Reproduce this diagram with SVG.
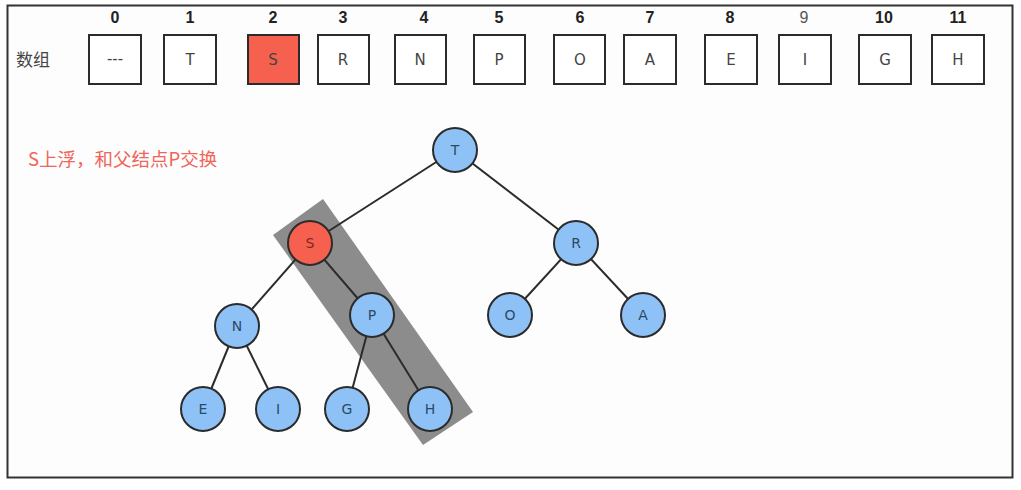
<svg xmlns="http://www.w3.org/2000/svg" width="1021" height="490" viewBox="0 0 1021 490">
<style>
.box{fill:#fff;stroke:#2b2b2b;stroke-width:2}
.idx{font-family:"Liberation Sans",Arial,sans-serif;font-size:16px;font-weight:bold;fill:#222;text-anchor:middle}
.lt{font-family:"DejaVu Sans","Liberation Sans",sans-serif;font-size:15px;fill:#444;text-anchor:middle}
.node{fill:#8ec2f6;stroke:#2b2b2b;stroke-width:2}
.red{fill:#f5614e}
.nt{font-family:"DejaVu Sans","Liberation Sans",sans-serif;font-size:14px;fill:#2a4a66;text-anchor:middle}
.edge{stroke:#2b2b2b;stroke-width:2;fill:none}
</style>
<rect x="0" y="0" width="1021" height="490" fill="#ffffff"/>
<rect x="7.5" y="5.5" width="1005" height="472" fill="#fdfdfd" stroke="#333" stroke-width="2"/>
<g id="array">
<text x="33" y="66" font-family="'Noto Sans CJK SC',sans-serif" font-size="17" fill="#444" text-anchor="middle">数组</text>
<g id="a0"><text class="idx" x="115" y="23">0</text><rect class="box" x="89" y="35" width="52" height="49"/><text class="lt" x="115" y="64">---</text></g>
<g id="a1"><text class="idx" x="190" y="23">1</text><rect class="box" x="164" y="35" width="52" height="49"/><text class="lt" x="190" y="65">T</text></g>
<g id="a2"><text class="idx" x="273" y="23">2</text><rect class="box red" x="248" y="35" width="51" height="49"/><text class="lt" x="273" y="65">S</text></g>
<g id="a3"><text class="idx" x="343" y="23">3</text><rect class="box" x="318" y="35" width="51" height="49"/><text class="lt" x="343" y="65">R</text></g>
<g id="a4"><text class="idx" x="424" y="23">4</text><rect class="box" x="395" y="35" width="51" height="49"/><text class="lt" x="420" y="65">N</text></g>
<g id="a5"><text class="idx" x="499" y="23">5</text><rect class="box" x="474" y="35" width="51" height="49"/><text class="lt" x="499" y="65">P</text></g>
<g id="a6"><text class="idx" x="580" y="23">6</text><rect class="box" x="554" y="35" width="51" height="49"/><text class="lt" x="580" y="65">O</text></g>
<g id="a7"><text class="idx" x="650" y="23">7</text><rect class="box" x="624" y="35" width="52" height="49"/><text class="lt" x="650" y="65">A</text></g>
<g id="a8"><text class="idx" x="730" y="23">8</text><rect class="box" x="705" y="35" width="52" height="49"/><text class="lt" x="731" y="65">E</text></g>
<g id="a9"><text class="idx" x="804" y="23" style="font-weight:normal;fill:#555">9</text><rect class="box" x="779" y="35" width="52" height="49"/><text class="lt" x="805" y="65">I</text></g>
<g id="a10"><text class="idx" x="884" y="23">10</text><rect class="box" x="859" y="35" width="52" height="49"/><text class="lt" x="885" y="65">G</text></g>
<g id="a11"><text class="idx" x="958" y="23">11</text><rect class="box" x="932" y="35" width="52" height="49"/><text class="lt" x="958" y="65">H</text></g>
</g>
<text x="28" y="166" font-family="'Noto Sans CJK SC',sans-serif" font-size="18.5" fill="#f0645a">S上浮，和父结点P交换</text>
<polygon id="highlight" points="273,235 323,199 473,412 423,445" fill="#8c8c8c"/>
<g id="connectors">
<line class="edge" x1="455" y1="150" x2="310" y2="243"/>
<line class="edge" x1="455" y1="150" x2="576" y2="243"/>
<line class="edge" x1="310" y1="243" x2="237" y2="326"/>
<line class="edge" x1="310" y1="243" x2="372" y2="315"/>
<line class="edge" x1="576" y1="243" x2="510" y2="315"/>
<line class="edge" x1="576" y1="243" x2="643" y2="315"/>
<line class="edge" x1="237" y1="326" x2="203" y2="409"/>
<line class="edge" x1="237" y1="326" x2="278" y2="409"/>
<line class="edge" x1="372" y1="315" x2="347" y2="409"/>
<line class="edge" x1="372" y1="315" x2="430" y2="409"/>
</g>
<g id="nT"><circle class="node" cx="455" cy="150" r="22"/><text class="nt" x="455" y="155">T</text></g>
<g id="nS"><circle class="node red" cx="310" cy="243" r="22"/><text class="nt" x="310" y="248" style="fill:#7a2a20">S</text></g>
<g id="nR"><circle class="node" cx="576" cy="243" r="22"/><text class="nt" x="576" y="248">R</text></g>
<g id="nN"><circle class="node" cx="237" cy="326" r="22"/><text class="nt" x="237" y="331">N</text></g>
<g id="nP"><circle class="node" cx="372" cy="315" r="22"/><text class="nt" x="372" y="320">P</text></g>
<g id="nO"><circle class="node" cx="510" cy="315" r="22"/><text class="nt" x="510" y="320">O</text></g>
<g id="nA"><circle class="node" cx="643" cy="315" r="22"/><text class="nt" x="643" y="320">A</text></g>
<g id="nE"><circle class="node" cx="203" cy="409" r="22"/><text class="nt" x="203" y="414">E</text></g>
<g id="nI"><circle class="node" cx="278" cy="409" r="22"/><text class="nt" x="278" y="414">I</text></g>
<g id="nG"><circle class="node" cx="347" cy="409" r="22"/><text class="nt" x="347" y="414">G</text></g>
<g id="nH"><circle class="node" cx="430" cy="409" r="22"/><text class="nt" x="430" y="414">H</text></g>
</svg>
